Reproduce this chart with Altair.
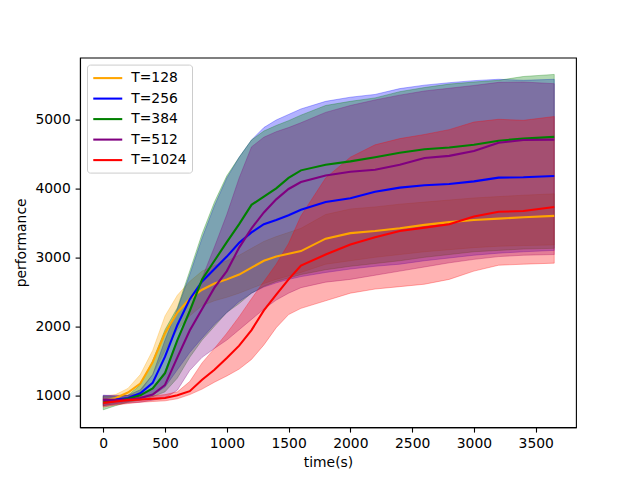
import altair as alt
import pandas as pd

T = [0, 100, 200, 300, 400, 500, 600, 700, 800, 900, 1000, 1100, 1200, 1300, 1400,
     1500, 1600, 1800, 2000, 2200, 2400, 2600, 2800, 3000, 3200, 3400, 3650]

series = ["T=128", "T=256", "T=384", "T=512", "T=1024"]
colors = ["orange", "blue", "green", "purple", "red"]

mean_128 = [920, 960, 1040, 1170, 1480, 1900, 2200, 2400, 2530, 2620, 2680, 2750, 2850, 2950, 3010,
            3050, 3090, 3270, 3350, 3380, 3420, 3470, 3510, 3540, 3560, 3580, 3600]
lo_128 = [870, 900, 950, 1050, 1300, 1650, 1950, 2150, 2300, 2370, 2420, 2480, 2550, 2620, 2680,
          2730, 2780, 2900, 2950, 3000, 3040, 3080, 3110, 3140, 3160, 3170, 3180]
hi_128 = [980, 1010, 1100, 1300, 1650, 2150, 2450, 2650, 2800, 2880, 2950, 3030, 3130, 3230, 3300,
          3360, 3420, 3620, 3700, 3730, 3770, 3800, 3830, 3860, 3880, 3900, 3920]

mean_256 = [930, 940, 960, 1030, 1180, 1560, 2020, 2390, 2650, 2830, 3010, 3210, 3360, 3480, 3540,
            3610, 3690, 3800, 3855, 3950, 4010, 4045, 4062, 4100, 4155, 4160, 4178]
lo_256 = [850, 880, 910, 950, 1000, 1120, 1370, 1620, 1830, 2030, 2200, 2360, 2480, 2570, 2630,
          2680, 2720, 2780, 2830, 2870, 2900, 2950, 2990, 3030, 3060, 3080, 3100]
hi_256 = [1000, 990, 1000, 1080, 1300, 1800, 2250, 2750, 3280, 3750, 4150, 4450, 4700, 4880, 4990,
          5070, 5150, 5260, 5320, 5360, 5445, 5495, 5530, 5560, 5580, 5565, 5580]

mean_384 = [900, 920, 950, 1000, 1100, 1320, 1800, 2220, 2680, 2950, 3220, 3480, 3760, 3880, 4000,
            4150, 4260, 4340, 4390, 4450, 4515, 4565, 4590, 4630, 4690, 4720, 4745]
lo_384 = [790, 850, 900, 930, 980, 1050, 1250, 1550, 1800, 2000, 2200, 2330, 2480, 2580, 2650,
          2700, 2750, 2820, 2870, 2910, 2950, 3000, 3040, 3080, 3100, 3120, 3130]
hi_384 = [990, 980, 1000, 1150, 1500, 1950, 2270, 2800, 3340, 3800, 4180, 4450, 4700, 4830, 4910,
          4980, 5060, 5200, 5260, 5310, 5400, 5460, 5510, 5540, 5565, 5620, 5650]

mean_512 = [930, 930, 940, 960, 1010, 1150, 1550, 1940, 2250, 2560, 2800, 3140, 3420, 3650, 3840,
            3990, 4090, 4185, 4240, 4270, 4340, 4440, 4470, 4540, 4660, 4700, 4705]
lo_512 = [850, 870, 890, 900, 930, 960, 1075, 1360, 1550, 1680, 1800, 1950, 2100, 2250, 2380,
          2480, 2560, 2640, 2680, 2740, 2800, 2860, 2920, 2970, 3010, 3030, 3040]
hi_512 = [1000, 1000, 1000, 1020, 1100, 1350, 1800, 2250, 2700, 3150, 3620, 4150, 4600, 4740, 4820,
          4880, 4950, 5100, 5200, 5280, 5350, 5410, 5450, 5490, 5535, 5540, 5516]

mean_1024 = [890, 910, 930, 940, 950, 960, 1000, 1060, 1225, 1370, 1540, 1720, 1945, 2230, 2460,
             2680, 2880, 3040, 3185, 3290, 3380, 3430, 3480, 3590, 3660, 3670, 3730]
lo_1024 = [830, 860, 880, 900, 910, 920, 950, 1010, 1090, 1190, 1280, 1380, 1520, 1730, 1980,
           2170, 2260, 2370, 2480, 2540, 2575, 2610, 2680, 2800, 2885, 2900, 2915]
hi_1024 = [950, 950, 960, 980, 990, 1010, 1050, 1200, 1470, 1680, 1900, 2140, 2400, 2650, 2900,
           3200, 3600, 4150, 4450, 4630, 4720, 4780, 4850, 4960, 5000, 4985, 5040]

means = [mean_128, mean_256, mean_384, mean_512, mean_1024]
lows = [lo_128, lo_256, lo_384, lo_512, lo_1024]
highs = [hi_128, hi_256, hi_384, hi_512, hi_1024]

rows = []
for s, m, lo, hi in zip(series, means, lows, highs):
    for t, a, b, c in zip(T, m, lo, hi):
        rows.append({"series": s, "t": t, "mean": a, "lo": b, "hi": c})
df = pd.DataFrame(rows)

FS = 13.9
xs = alt.Scale(domain=[-188, 3826], nice=False, zero=False)
ys = alt.Scale(domain=[538, 5894], nice=False, zero=False)
cscale = alt.Scale(domain=series, range=colors)

xaxis = alt.Axis(values=[0, 500, 1000, 1500, 2000, 2500, 3000, 3500], format="d",
                 title="time(s)", grid=False, titlePadding=5)
yaxis = alt.Axis(values=[1000, 2000, 3000, 4000, 5000], format="d",
                 title="performance", grid=False, titlePadding=6)

legend = alt.Legend(title=None, orient="none", legendX=7, legendY=7,
                    symbolType="M-2,0H2", symbolSize=210, symbolStrokeWidth=2.08,
                    symbolOffset=7.25,
                    labelFontSize=FS, labelFont="DejaVu Sans", labelColor="black",
                    fillColor="rgba(255,255,255,0.8)", strokeColor="#cccccc",
                    cornerRadius=3, padding=5, rowPadding=4.5, labelOffset=15)

base = alt.Chart(df)
layers = []
for s, c in zip(series, colors):
    layers.append(
        base.transform_filter(alt.datum.series == s).mark_area(
            color=c, fillOpacity=0.3, stroke=c, strokeOpacity=0.3, strokeWidth=1
        ).encode(
            x=alt.X("t:Q", scale=xs, axis=xaxis),
            y=alt.Y("lo:Q", scale=ys, axis=yaxis),
            y2="hi:Q",
        )
    )
for s in series:
    layers.append(
        base.transform_filter(alt.datum.series == s).mark_line(strokeWidth=2.08).encode(
            x=alt.X("t:Q", scale=xs, axis=xaxis),
            y=alt.Y("mean:Q", scale=ys, axis=yaxis),
            color=alt.Color("series:N", scale=cscale, legend=legend, sort=series),
        )
    )

chart = alt.layer(*layers).properties(
    width=496, height=369.6,
    autosize=alt.AutoSizeParams(type="none"),
    padding={"left": 72, "top": 49.6, "right": 40, "bottom": 52},
).configure(font="DejaVu Sans").configure_view(
    stroke="black", strokeWidth=1.1
).configure_axis(
    domainColor="black", domainWidth=1.1, tickColor="black", tickWidth=1.1, tickSize=4.9,
    labelFontSize=FS, labelColor="black", labelPadding=4.9, labelFont="DejaVu Sans",
    titleFontSize=FS, titleFontWeight="normal", titleColor="black", titleFont="DejaVu Sans",
)

chart.save("out.html", embed_options={"renderer": "svg", "actions": False})
